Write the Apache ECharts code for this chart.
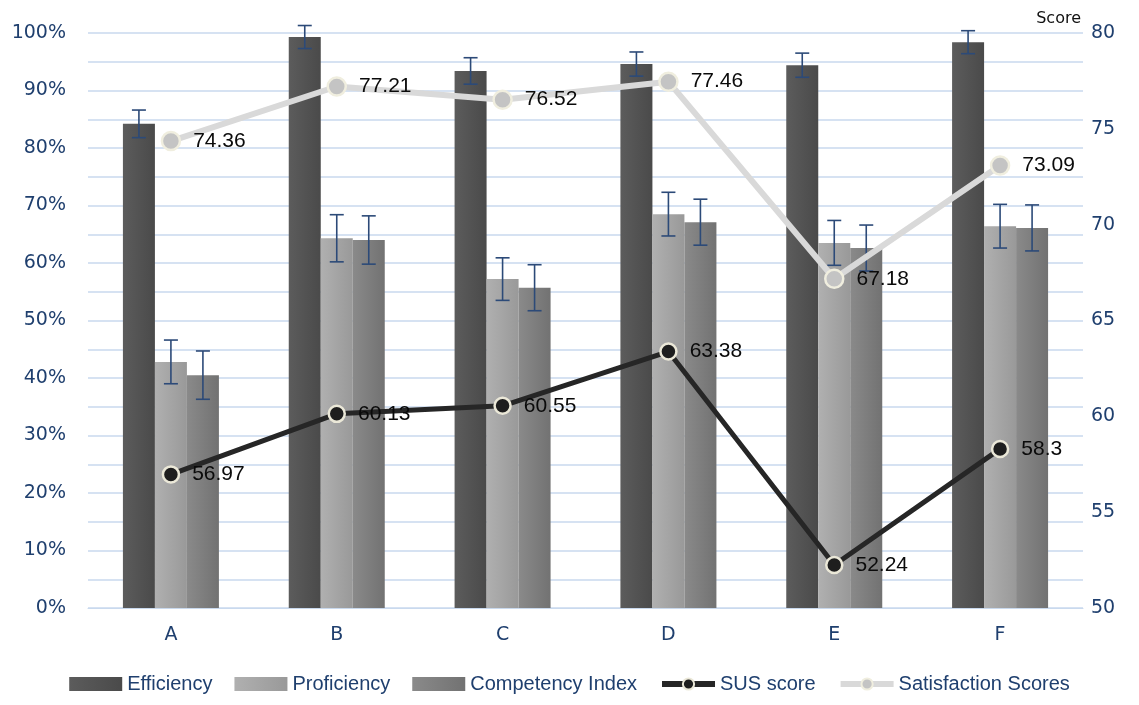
<!DOCTYPE html>
<html>
<head>
<meta charset="utf-8">
<script src="https://cdn.jsdelivr.net/npm/echarts@6/dist/echarts.min.js"></script>
<style>
  html, body { margin: 0; padding: 0; background: #fff; }
  #main { width: 1139px; height: 705px; }
</style>
</head>
<body>
<div id="main"></div>
<script>
var categories = ['A', 'B', 'C', 'D', 'E', 'F'];
var efficiency = [84.2, 99.3, 93.4, 94.6, 94.4, 98.4];
var proficiency = [42.8, 64.3, 57.2, 68.5, 63.5, 66.4];
var competency = [40.5, 64.0, 55.7, 67.1, 62.6, 66.1];
var efficiencyErr = [2.4, 2.0, 2.3, 2.1, 2.1, 2.0];
var proficiencyErr = [3.8, 4.1, 3.7, 3.8, 3.9, 3.8];
var competencyErr = [4.2, 4.2, 4.0, 4.0, 4.0, 4.0];
var susScore = [56.97, 60.13, 60.55, 63.38, 52.24, 58.3];
var satisfaction = [74.36, 77.21, 76.52, 77.46, 67.18, 73.09];

var mychart = echarts.init(document.getElementById('main'));
var blue = '#1f3f6e';
var barW = 32;

function errData(vals, errs) {
  return vals.map(function (v, i) { return [i, v - errs[i], v + errs[i]]; });
}
function errSeries(vals, errs, shift) {
  return {
    type: 'custom',
    name: 'err' + shift,
    yAxisIndex: 0,
    z: 3,
    silent: true,
    data: errData(vals, errs),
    renderItem: function (params, api) {
      var lo = api.coord([api.value(0), api.value(1)]);
      var hi = api.coord([api.value(0), api.value(2)]);
      var x = lo[0] + shift * barW;
      var style = { stroke: '#2c4a78', lineWidth: 1.6 };
      return {
        type: 'group',
        children: [
          { type: 'line', shape: { x1: x, y1: lo[1], x2: x, y2: hi[1] }, style: style },
          { type: 'line', shape: { x1: x - 7, y1: lo[1], x2: x + 7, y2: lo[1] }, style: style },
          { type: 'line', shape: { x1: x - 7, y1: hi[1], x2: x + 7, y2: hi[1] }, style: style }
        ]
      };
    }
  };
}
function grad(c1, c2) {
  return new echarts.graphic.LinearGradient(0, 0, 1, 0, [
    { offset: 0, color: c1 }, { offset: 1, color: c2 }
  ]);
}

var labelFont = { fontFamily: 'Liberation Sans', fontSize: 21, color: '#0a0a0a' };

var option = {
  animation: false,
  grid: { left: 88, right: 56, top: 33, bottom: 97 },
  legend: {
    bottom: 6,
    left: 'center',
    itemWidth: 53,
    itemHeight: 14,
    itemGap: 22,
    data: [
      { name: 'Efficiency', icon: 'rect' },
      { name: 'Proficiency', icon: 'rect' },
      { name: 'Competency Index', icon: 'rect' },
      { name: 'SUS score', lineStyle: { width: 6 } },
      { name: 'Satisfaction Scores', lineStyle: { width: 6 } }
    ],
    textStyle: { color: blue, fontSize: 20, fontFamily: 'Liberation Sans' }
  },
  xAxis: {
    type: 'category',
    data: categories,
    axisLine: { show: true, lineStyle: { color: '#c9d9ee' } },
    axisTick: { show: false },
    axisLabel: { color: blue, fontSize: 19, margin: 18, fontFamily: 'DejaVu Sans' }
  },
  yAxis: [
    {
      type: 'value',
      min: 0,
      max: 100,
      interval: 10,
      axisLabel: { formatter: '{value}%', color: blue, fontSize: 19, fontFamily: 'DejaVu Sans', margin: 22 },
      splitLine: { lineStyle: { color: '#c9d9ee', width: 1.5 } },
      minorTick: { show: false, splitNumber: 2 },
      minorSplitLine: { show: true, lineStyle: { color: '#c9d9ee', width: 1.5 } }
    },
    {
      type: 'value',
      min: 50,
      max: 80,
      interval: 5,
      name: 'Score',
      nameLocation: 'end',
      nameGap: 6,
      nameTextStyle: { color: '#111', fontSize: 16, fontFamily: 'DejaVu Sans', align: 'right', padding: [0, 2, 0, 0] },
      axisLabel: { color: blue, fontSize: 19, fontFamily: 'DejaVu Sans', margin: 8 },
      splitLine: { show: false }
    }
  ],
  series: [
    {
      name: 'Efficiency', type: 'bar', data: efficiency, barWidth: barW, barGap: '0%',
      itemStyle: { color: grad('#5c5c5c', '#4a4a4a') }
    },
    {
      name: 'Proficiency', type: 'bar', data: proficiency, barWidth: barW, barGap: '0%',
      itemStyle: { color: grad('#b0b0b0', '#999999') }
    },
    {
      name: 'Competency Index', type: 'bar', data: competency, barWidth: barW, barGap: '0%',
      itemStyle: { color: grad('#8a8a8a', '#727272') }
    },
    errSeries(efficiency, efficiencyErr, -1),
    errSeries(proficiency, proficiencyErr, 0),
    errSeries(competency, competencyErr, 1),
    {
      name: 'SUS score', type: 'line', yAxisIndex: 1, data: susScore, z: 5,
      symbol: 'circle', symbolSize: 16,
      lineStyle: { color: '#262626', width: 5 },
      itemStyle: { color: '#1e1e1e', borderColor: '#ebe8d8', borderWidth: 2.5 },
      label: Object.assign({ show: true, position: 'right', distance: 12 }, labelFont)
    },
    {
      name: 'Satisfaction Scores', type: 'line', yAxisIndex: 1, data: satisfaction, z: 5,
      symbol: 'circle', symbolSize: 18,
      lineStyle: { color: '#d9d9d9', width: 6 },
      itemStyle: { color: '#c4c4c4', borderColor: '#f0eedf', borderWidth: 2.5 },
      label: Object.assign({ show: true, position: 'right', distance: 12 }, labelFont)
    }
  ]
};
mychart.setOption(option);
</script>
</body>
</html>
